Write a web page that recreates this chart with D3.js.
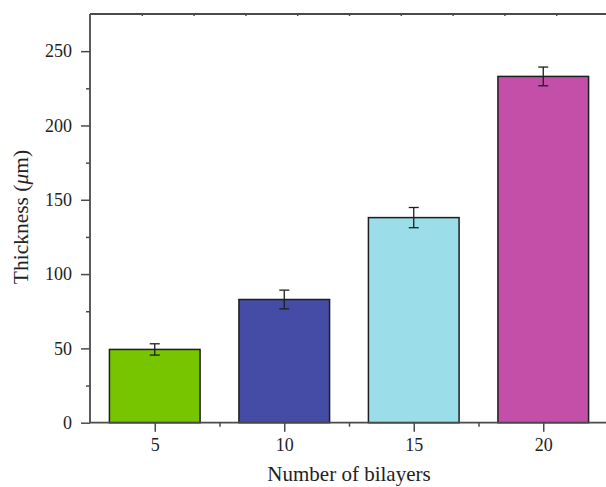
<!DOCTYPE html>
<html><head><meta charset="utf-8">
<script src="https://cdn.jsdelivr.net/npm/d3@7"></script>
<style>body{margin:0;background:#fff}svg{display:block}text{font-family:"Liberation Serif","Times New Roman",serif}</style>
</head><body><svg id="c" width="606" height="487"></svg>
<script>
const categories = [5, 10, 15, 20];
const thickness = [49.3, 82.9, 138.0, 233.0];
const errors = [3.8, 6.3, 6.8, 6.3];
const colors = ["#76c500", "#444ca6", "#9bdeea", "#c34fa9"];
const yTicks = [0, 50, 100, 150, 200, 250];
const xTicks = [5, 10, 15, 20];

const svg = d3.select("#c");
const x = d3.scaleLinear().domain([2.5, 22.5]).range([90, 608]);
const y = d3.scaleLinear().domain([0, 275]).range([422.7, 14]);
const barW = 3.5;
const axisCol = "#4a4a4a";

// bars
categories.forEach((c, i) => {
  svg.append("rect")
    .attr("x", x(c - barW / 2)).attr("y", y(thickness[i]))
    .attr("width", x(c + barW / 2) - x(c - barW / 2))
    .attr("height", y(0) - y(thickness[i]))
    .attr("fill", colors[i]).attr("stroke", "#1e1e1e").attr("stroke-width", 1.5);
  const cx = x(c), t = y(thickness[i] + errors[i]), b = y(thickness[i] - errors[i]);
  const g = svg.append("g").attr("stroke", "#1e1e1e").attr("stroke-width", 1.3);
  g.append("line").attr("x1", cx).attr("x2", cx).attr("y1", t).attr("y2", b);
  g.append("line").attr("x1", cx - 5).attr("x2", cx + 5).attr("y1", t).attr("y2", t);
  g.append("line").attr("x1", cx - 5).attr("x2", cx + 5).attr("y1", b).attr("y2", b);
});

// bottom axis
const xAxis = d3.axisBottom(x).tickValues(xTicks).tickSize(9).tickPadding(7).tickFormat(d3.format("d"));
const gx = svg.append("g").attr("transform", `translate(0,${y(0)})`).call(xAxis);
svg.append("g").attr("transform", `translate(0,${y(0)})`)
  .call(d3.axisBottom(x).tickValues([7.5, 12.5, 17.5]).tickSize(4).tickFormat(""))
  .select(".domain").remove();

// left axis
const gy = svg.append("g").attr("transform", `translate(90,0)`)
  .call(d3.axisLeft(y).tickValues(yTicks).tickSize(9).tickPadding(9));
svg.append("g").attr("transform", `translate(90,0)`)
  .call(d3.axisLeft(y).tickValues([25, 75, 125, 175, 225]).tickSize(4).tickFormat(""))
  .select(".domain").remove();

// top axis
const gt = svg.append("g").attr("transform", `translate(0,14)`)
  .call(d3.axisBottom(x).tickValues([4.5, 6.5, 8.5, 10.5, 12.5, 14.5, 16.5, 18.5, 20.5]).tickSize(2).tickFormat(""));

svg.selectAll(".domain").attr("stroke", axisCol).attr("stroke-width", 1.8);
svg.selectAll(".tick line").attr("stroke", axisCol).attr("stroke-width", 1.5);
svg.selectAll(".tick text").attr("fill", "#222").style("font-size", "18px").style("font-family", '"Liberation Serif",serif');
gx.select(".domain").attr("d", `M90,0H608`);
gy.select(".domain").attr("d", `M0,${y(0)}V14`);
gt.select(".domain").attr("d", `M90,0H608`);

// titles
svg.append("text").attr("x", 349).attr("y", 481).attr("text-anchor", "middle")
  .attr("fill", "#222").style("font-size", "21px").text("Number of bilayers");
const yl = svg.append("text").attr("transform", `translate(28,217) rotate(-90)`)
  .attr("text-anchor", "middle").attr("fill", "#222").style("font-size", "21.5px");
yl.append("tspan").text("Thickness (");
yl.append("tspan").style("font-style", "italic").text("μ");
yl.append("tspan").text("m)");
</script></body></html>
